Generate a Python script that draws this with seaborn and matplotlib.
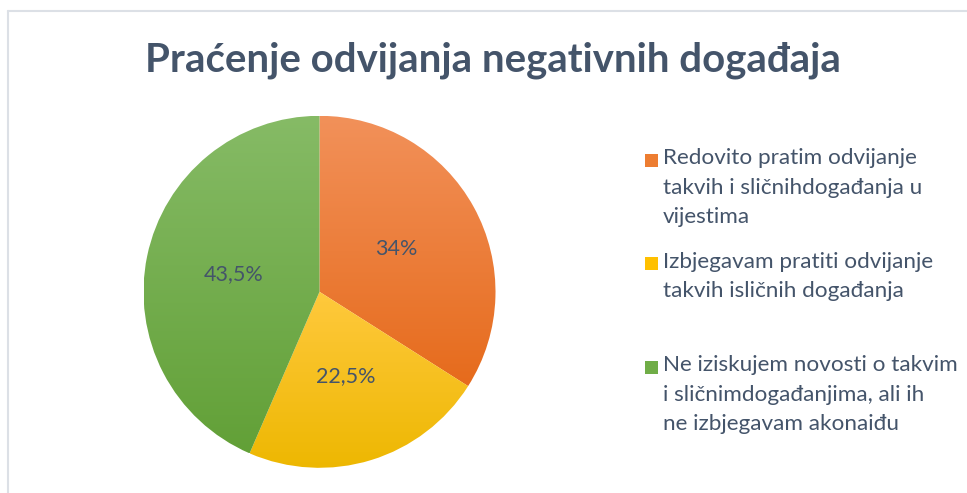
import numpy as np
import matplotlib
matplotlib.use("Agg")
import matplotlib.pyplot as plt
import seaborn as sns
from matplotlib.colors import LinearSegmentedColormap
from matplotlib.patches import Rectangle
from matplotlib.lines import Line2D

# Podaci
kategorije = [
    "Redovito pratim odvijanje\ntakvih i sličnihdogađanja u\nvijestima",
    "Izbjegavam pratiti odvijanje\ntakvih isličnih događanja",
    "Ne iziskujem novosti o takvim\ni sličnimdogađanjima, ali ih\nne izbjegavam akonaiđu",
]
postotci = [34, 22.5, 43.5]
boje = ["#ED7D31", "#FFC000", "#70AD47"]
boje_gore = ["#F2915A", "#FFC93D", "#86BB66"]
boje_dolje = ["#E66B1C", "#EDB700", "#62A037"]

sns.set_theme(style="white")
plt.rcParams["font.family"] = ["Lato", "DejaVu Sans"]
tekst = "#44546A"

W, H = 967, 493
fig = plt.figure(figsize=(W / 100, H / 100), dpi=100)

# okvir grafikona
fig.add_artist(Line2D([8 / W, 8 / W], [0, 1 - 11 / H], transform=fig.transFigure,
                      color="#DCE0E6", lw=1.5))
fig.add_artist(Line2D([8 / W, 1], [1 - 11 / H, 1 - 11 / H], transform=fig.transFigure,
                      color="#DCE0E6", lw=1.5))

# --- Pita ---
cx, cy, r = 319.5, H - 291.8, 176
ax = fig.add_axes([(cx - r) / W, (cy - r) / H, 2 * r / W, 2 * r / H])

wedges, _, autotexts = ax.pie(
    postotci, startangle=90, counterclock=False, colors=boje,
    autopct=lambda p: f"{round(p, 1):g}".replace(".", ",") + "%",
    pctdistance=0.5, textprops=dict(color=tekst, fontsize=15.5),
    wedgeprops=dict(linewidth=0),
)

# Excel-ov vertikalni gradijent po isječku
for w, c1, c2 in zip(wedges, boje_gore, boje_dolje):
    verts = w.get_patch_transform().transform(w.get_path().vertices)
    x0, y0 = verts.min(axis=0)
    x1, y1 = verts.max(axis=0)
    cmap = LinearSegmentedColormap.from_list("g", [c2, c1])
    grad = np.linspace(0, 1, 256).reshape(-1, 1)
    im = ax.imshow(grad, cmap=cmap, extent=(x0, x1, y0, y1), origin="lower",
                   aspect="auto", zorder=1, interpolation="bilinear")
    im.set_clip_path(w)
    w.set_facecolor("none")
for t in autotexts:
    t.set_zorder(3)
ax.set_xlim(-1, 1)
ax.set_ylim(-1, 1)
ax.set_aspect("equal")

# --- Naslov ---
fig.text(493 / W, 1 - 60 / H, "Praćenje odvijanja negativnih događaja",
         ha="center", va="center", fontsize=28.9, fontweight="bold", color=tekst)

# --- Legenda ---
for i, (lab, c) in enumerate(zip(kategorije, boje)):
    yc = 160 + i * 103.5
    fig.add_artist(Rectangle((645 / W, 1 - (yc + 6.5) / H), 13 / W, 13 / H,
                             transform=fig.transFigure, color=c, lw=0))
    fig.text(663 / W, 1 - (yc - 12) / H, lab, ha="left", va="top",
             fontsize=16.2, color=tekst, linespacing=1.6)

fig.savefig("out.png", dpi=100)
